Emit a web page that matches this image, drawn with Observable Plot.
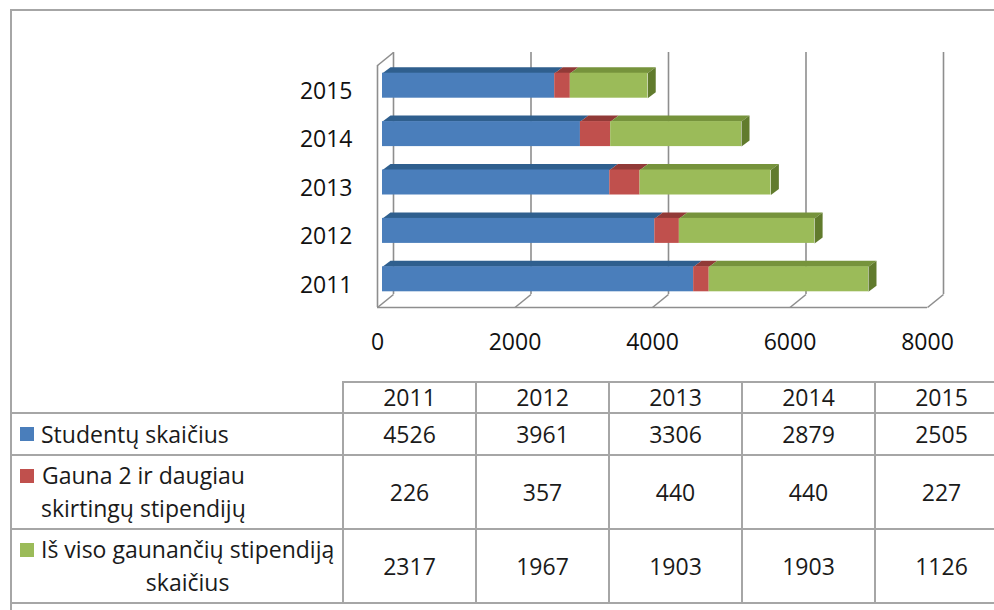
<!DOCTYPE html>
<html><head><meta charset="utf-8">
<script src="https://cdn.jsdelivr.net/npm/d3@7"></script>
<script src="https://cdn.jsdelivr.net/npm/@observablehq/plot@0.6"></script>
<style>
html,body{margin:0;padding:0;background:#fff;overflow:hidden;}
body{width:994px;height:610px;position:relative;font-family:"Open Sans",Lato,sans-serif;color:#1a1a1a;}
#chart{position:absolute;left:0;top:0;}
.ln{position:absolute;background:#a6a6a6;}
.cell{position:absolute;display:flex;align-items:center;justify-content:center;font-size:23px;line-height:33px;}
.leg{justify-content:flex-start;}
.sq{width:14px;height:14px;}
.sqw{height:33px;display:flex;align-items:center;margin-left:9px;margin-right:7px;}
.tb{text-align:center;white-space:nowrap;}
</style></head>
<body>
<div id="chart"></div>
<div id="table"></div>
<script>
// ---- data ----
const years = ["2011", "2012", "2013", "2014", "2015"];
const seriesNames = ["Studentų skaičius", "Gauna 2 ir daugiau skirtingų stipendijų", "Iš viso gaunančių stipendiją skaičius"];
const legendLines = [["Studentų skaičius"], ["Gauna 2 ir daugiau", "skirtingų stipendijų"], ["Iš viso gaunančių stipendiją", "skaičius"]];
const students = [4526, 3961, 3306, 2879, 2505];
const twoOrMore = [226, 357, 440, 440, 227];
const totalReceiving = [2317, 1967, 1903, 1903, 1126];
const xTicks = [0, 2000, 4000, 6000, 8000];

const values = [students, twoOrMore, totalReceiving];
const frontColors = ["#4a7ebb", "#c0504d", "#9bbb59"];
const topColors = ["#2f5f8e", "#913a37", "#76933c"];
const sideColor = "#617b2d";
const gridColor = "#8e8e8e";
const FONT = "'Open Sans', Lato, sans-serif";

// ---- geometry (pixels) ----
const W = 994, H = 372, mL = 377, mR = 67, mT = 65, mB = 65;
const xMax = 8000;
const kx = (W - mL - mR) / xMax;
const ky = (H - mT - mB) / years.length;
const px = p => p / kx, py = p => p / ky;
const wallDX = px(16), wallDY = py(13);
const barOX = px(5), barOY = py(4);
const depthX = px(8), depthY = py(6);
const halfH = py(12.5);

// ---- build segments ----
const segs = [];
years.forEach((yr, i) => {
  let acc = 0;
  values.forEach((arr, s) => {
    const v = arr[i];
    segs.push({year: yr, i, s, x1: acc, x2: acc + v, last: s === values.length - 1});
    acc += v;
  });
});
const topPts = [], sidePts = [];
segs.forEach((d, k) => {
  const yc = d.i + barOY, yt = yc + halfH, yb = yc - halfH;
  const a = d.x1 + barOX, b = d.x2 + barOX;
  [[a, yt], [b, yt], [b + depthX, yt + depthY], [a + depthX, yt + depthY]]
    .forEach(([x, y]) => topPts.push({id: k, s: d.s, x, y}));
  if (d.last) {
    [[b, yb], [b, yt], [b + depthX, yt + depthY], [b + depthX, yb + depthY]]
      .forEach(([x, y]) => sidePts.push({id: k, x, y}));
  }
});

const marks = [
  Plot.ruleX(xTicks, {x: d => d + wallDX, y1: -0.5 + wallDY, y2: years.length - 0.5 + wallDY, stroke: gridColor, strokeWidth: 1.6}),
  Plot.link(xTicks, {x1: d => d, y1: -0.5, x2: d => d + wallDX, y2: -0.5 + wallDY, stroke: gridColor, strokeWidth: 1.6}),
  Plot.link([0], {x1: 0, y1: years.length - 0.5, x2: wallDX, y2: years.length - 0.5 + wallDY, stroke: gridColor, strokeWidth: 1.6}),
  Plot.ruleX([0], {y1: -0.5, y2: years.length - 0.5, stroke: gridColor, strokeWidth: 1.6}),
  Plot.ruleY([-0.5], {x1: 0, x2: xMax, stroke: gridColor, strokeWidth: 1.6}),
];
values.forEach((_, s) => {
  marks.push(Plot.line(topPts.filter(p => p.s === s), {x: "x", y: "y", z: "id", fill: topColors[s], stroke: "none", curve: "linear"}));
});
marks.push(Plot.line(sidePts, {x: "x", y: "y", z: "id", fill: sideColor, stroke: "none", curve: "linear"}));
values.forEach((_, s) => {
  marks.push(Plot.rect(segs.filter(d => d.s === s), {
    x1: d => d.x1 + barOX, x2: d => d.x2 + barOX,
    y1: d => d.i + barOY - halfH, y2: d => d.i + barOY + halfH,
    fill: frontColors[s]
  }));
});
marks.push(
  Plot.axisX(xTicks, {tickSize: 0, tickPadding: 26, fontSize: 23, tickFormat: d => String(d), fill: "#111", label: null}),
  Plot.axisY(d3.range(years.length), {tickSize: 0, tickPadding: 25, fontSize: 23, tickFormat: i => years[i], fill: "#111", dy: 2, label: null})
);

const chart = Plot.plot({
  width: W, height: H,
  marginLeft: mL, marginRight: mR, marginTop: mT, marginBottom: mB,
  x: {domain: [0, xMax], label: null},
  y: {domain: [-0.5, years.length - 0.5], label: null},
  style: {fontFamily: FONT, fontSize: "23px", background: "transparent", overflow: "visible"},
  marks
});
document.getElementById("chart").appendChild(chart);

// ---- data table below the chart ----
const T = document.getElementById("table");
const colX = [11, 343, 476, 609, 742, 875, 1008];
const rowY = [382, 413, 455, 529, 603];
function line(x, y, w, h) {
  const e = document.createElement("div");
  e.className = "ln";
  Object.assign(e.style, {left: x + "px", top: y + "px", width: w + "px", height: h + "px"});
  T.appendChild(e);
}
function cell(x1, y1, x2, y2, cls) {
  const e = document.createElement("div");
  e.className = "cell" + (cls ? " " + cls : "");
  Object.assign(e.style, {left: x1 + "px", top: y1 + "px", width: (x2 - x1) + "px", height: (y2 - y1) + "px"});
  T.appendChild(e);
  return e;
}
line(10, 9, 1000, 2);
line(10, 9, 2, 610);
line(colX[1] - 1, rowY[0] - 1, 700, 2);
for (let r = 1; r < rowY.length; r++) line(colX[0] - 1, rowY[r] - 1, 1000, 2);
for (let c = 1; c < colX.length; c++) line(colX[c] - 1, rowY[0] - 1, 2, rowY[rowY.length - 1] - rowY[0] + 2);
years.forEach((yr, c) => { cell(colX[c + 1], rowY[0], colX[c + 2], rowY[1]).textContent = yr; });
values.forEach((arr, s) => {
  const lc = cell(colX[0], rowY[s + 1], colX[1], rowY[s + 2], "leg");
  const wrap = document.createElement("div");
  wrap.style.display = "flex"; wrap.style.alignItems = "flex-start";
  const sqw = document.createElement("div"); sqw.className = "sqw";
  const sq = document.createElement("div"); sq.className = "sq"; sq.style.background = frontColors[s];
  sqw.appendChild(sq);
  const tb = document.createElement("div"); tb.className = "tb";
  tb.innerHTML = legendLines[s].join("<br>");
  wrap.appendChild(sqw); wrap.appendChild(tb); lc.appendChild(wrap);
  arr.forEach((v, c) => { cell(colX[c + 1], rowY[s + 1], colX[c + 2], rowY[s + 2]).textContent = String(v); });
});
</script>
</body></html>
